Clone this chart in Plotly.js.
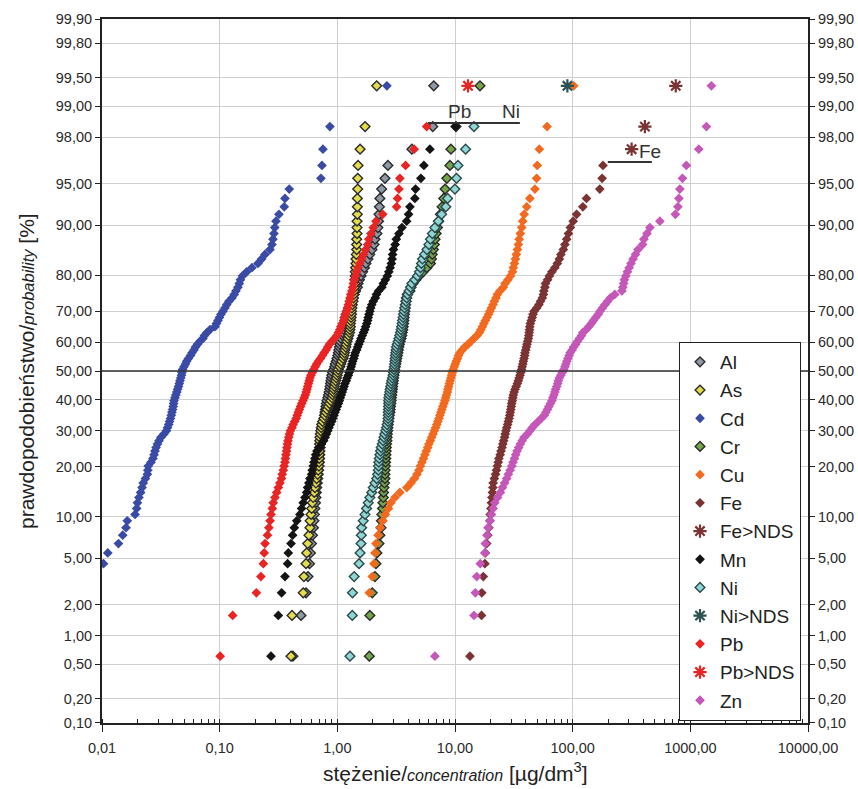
<!DOCTYPE html>
<html>
<head>
<meta charset="utf-8">
<script src="https://cdn.plot.ly/plotly-3.0.1.min.js"></script>
<style>html,body{margin:0;padding:0;background:#fff;}#chart{width:858px;height:789px;}</style>
</head>
<body>
<div id="chart"></div>
<script>
// ---- sample description ----
const N = 102;            // samples per metal
const BLOM_A = 0.375;     // plotting position (i - a)/(N + 1 - 2a)

// ---- probability axis ticks ----
const probTicks = [0.1,0.2,0.5,1,2,5,10,20,30,40,50,60,70,80,90,95,98,99,99.5,99.8,99.9];
const probTickText = ['0,10','0,20','0,50','1,00','2,00','5,00','10,00','20,00','30,00','40,00','50,00','60,00','70,00','80,00','90,00','95,00','98,00','99,00','99,50','99,80','99,90'];

// ---- concentrations [µg/dm3], sorted ----
const alVals = [0.419,0.491,0.542,0.563,0.580,0.591,0.603,0.615,0.627,0.633,
0.639,0.645,0.652,0.658,0.663,0.668,0.676,0.681,0.688,0.694,
0.697,0.702,0.706,0.709,0.711,0.714,0.717,0.720,0.723,0.726,
0.730,0.734,0.743,0.757,0.770,0.779,0.785,0.792,0.800,0.808,
0.816,0.829,0.840,0.851,0.862,0.868,0.875,0.882,0.889,0.898,
0.912,0.932,0.949,0.960,0.979,0.992,1.01,1.02,1.03,1.04,
1.05,1.06,1.08,1.11,1.12,1.14,1.15,1.16,1.163,1.17,
1.19,1.22,1.25,1.29,1.32,1.35,1.39,1.43,1.48,1.50,
1.54,1.59,1.64,1.70,1.75,1.82,1.89,1.97,2.05,2.09,
2.17,2.21,2.24,2.26,2.28,2.30,2.38,2.54,2.69,4.30,
6.47,6.60];
const alFirst = 1;

const asVals = [0.404,0.412,0.513,0.520,0.542,0.549,0.560,0.574,0.585,0.587,
0.597,0.605,0.613,0.624,0.637,0.645,0.658,0.667,0.680,0.688,
0.697,0.700,0.702,0.703,0.705,0.706,0.707,0.709,0.711,0.717,
0.724,0.731,0.737,0.750,0.770,0.785,0.800,0.818,0.839,0.860,
0.882,0.903,0.914,0.925,0.934,0.945,0.956,0.969,0.983,0.996,
1.01,1.02,1.05,1.07,1.09,1.12,1.14,1.15,1.16,1.18,
1.19,1.21,1.23,1.25,1.27,1.28,1.29,1.29,1.30,1.31,
1.32,1.32,1.33,1.34,1.36,1.37,1.38,1.39,1.40,1.41,
1.41,1.42,1.42,1.43,1.44,1.44,1.45,1.46,1.46,1.46,
1.47,1.47,1.47,1.48,1.48,1.48,1.49,1.49,1.50,1.56,
1.72,2.16];
const asFirst = 1;

const cdVals = [0.0103,0.0112,0.0138,0.0150,0.0160,0.0164,
0.0191,0.0197,0.0200,0.0206,0.0213,0.0219,0.0224,0.0234,0.0243,0.0245,
0.0247,0.0261,0.0271,0.0277,0.0282,0.0288,0.0296,0.0305,0.0317,0.0336,
0.0353,0.0360,0.0369,0.0375,0.0382,0.0388,0.0393,0.0398,0.0403,0.0406,
0.0409,0.0417,0.0424,0.0432,0.0439,0.0447,0.0454,0.0460,0.0467,0.0474,
0.0478,0.0484,0.0497,0.0512,0.0524,0.0543,0.0565,0.0582,0.0605,0.0623,
0.0648,0.0680,0.0721,0.0743,0.0780,0.0827,0.0912,0.0939,0.0967,0.0996,
0.1026,0.1067,0.1109,0.1147,0.1199,0.1272,0.1330,0.1375,0.1430,0.1467,
0.1502,0.1562,0.1696,0.1881,0.2115,0.2274,0.2426,0.2676,0.2782,0.2837,
0.2892,0.2938,0.3008,0.3190,0.3538,0.3587,0.3903,0.7256,0.7400,0.7546,
0.8651,2.638];
const cdFirst = 5;

const crVals = [1.87,1.89,1.98,2.09,2.13,2.17,2.26,2.30,2.35,2.37,
2.39,2.42,2.44,2.46,2.47,2.49,2.52,2.54,2.54,2.55,
2.56,2.57,2.58,2.59,2.60,2.61,2.62,2.64,2.65,2.66,
2.68,2.69,2.71,2.73,2.75,2.77,2.80,2.81,2.83,2.85,
2.87,2.88,2.90,2.92,2.94,2.95,2.97,2.99,3.01,3.03,
3.05,3.07,3.11,3.14,3.17,3.20,3.24,3.27,3.30,3.33,
3.37,3.42,3.48,3.53,3.56,3.60,3.63,3.66,3.68,3.70,
3.72,3.75,3.78,3.80,3.83,3.86,3.93,4.14,4.23,4.39,
4.65,4.94,5.35,5.77,6.18,6.31,6.42,6.55,6.68,6.77,
6.92,7.09,7.28,7.52,7.77,8.02,8.24,8.52,9.05,9.23,
10.2,16.3];
const crFirst = 1;

const cuVals = [1.87,1.98,2.05,2.09,2.13,2.22,2.32,2.44,2.56,2.72,
2.85,3.09,3.40,3.90,4.22,4.52,4.75,4.94,5.08,5.24,
5.40,5.55,5.70,5.86,6.00,6.17,6.34,6.50,6.66,6.84,
7.00,7.16,7.30,7.44,7.59,7.74,7.89,8.05,8.21,8.34,
8.46,8.62,8.70,8.84,8.96,9.09,9.24,9.36,9.50,9.65,
9.85,10.05,10.25,10.5,10.7,11.0,11.5,12.1,12.9,13.7,
14.5,15.4,16.1,16.6,17.1,17.6,18.1,18.7,19.3,19.8,
20.4,21.0,21.6,22.3,22.9,24.1,25.8,26.6,28.2,29.6,
30.8,31.3,32.0,32.6,33.2,33.9,34.6,35.1,35.9,36.9,
37.6,38.7,40.7,43.3,47.8,49.4,50.0,52.1,60.6,102];
const cuFirst = 3;

const feVals = [13.4,16.8,16.9,17.4,17.95,18.1,18.6,19.0,19.4,19.8,
19.9,20.2,20.4,20.6,20.8,21.0,21.1,21.6,22.1,22.5,
22.9,23.3,23.6,24.2,24.6,25.1,25.5,25.9,26.4,26.7,
27.1,27.5,28.0,28.4,28.8,29.2,29.5,29.8,30.1,30.3,
30.7,31.0,31.3,31.8,32.4,33.1,33.9,34.5,35.1,35.7,
36.2,36.8,37.2,37.7,38.1,38.6,39.1,39.3,39.9,40.4,
40.9,41.5,42.0,42.4,42.7,43.0,43.2,43.7,44.5,45.3,
46.0,47.0,49.5,51.6,53.3,55.2,56.4,56.9,58.1,58.7,
61.2,63.4,66.6,70.6,74.1,77.1,79.4,83.3,85.9,88.9,
92.1,95.6,101,108,122,131,170,178,181];
const feFirst = 1;
const feNdsVals = [317,411,752];
const feNdsFirst = 100;

const mnVals = [0.273,0.315,0.336,0.359,0.378,0.383,0.404,0.417,0.431,0.452,
0.481,0.497,0.513,0.531,0.549,0.559,0.573,0.585,0.605,0.612,
0.624,0.633,0.645,0.655,0.671,0.705,0.733,0.765,0.788,0.808,
0.829,0.848,0.870,0.895,0.914,0.936,0.954,0.977,0.998,1.02,
1.04,1.06,1.08,1.10,1.12,1.14,1.16,1.19,1.21,1.24,
1.26,1.29,1.31,1.33,1.35,1.38,1.40,1.42,1.46,1.49,
1.52,1.56,1.59,1.63,1.67,1.71,1.74,1.78,1.81,1.83,
1.86,1.89,1.92,1.96,2.02,2.10,2.15,2.24,2.39,2.46,
2.56,2.66,2.74,2.81,2.88,2.92,2.95,3.00,3.10,3.17,
3.34,3.54,3.88,4.03,4.14,4.56,4.62,5.13,5.44,6.12,
10.1];
const mnFirst = 1;

const niVals = [1.28,1.34,1.345,1.39,1.53,1.56,1.59,1.60,1.61,1.66,
1.72,1.77,1.83,1.89,1.96,2.02,2.09,2.16,2.20,2.23,
2.24,2.25,2.27,2.30,2.33,2.36,2.41,2.45,2.49,2.53,
2.58,2.62,2.65,2.69,2.70,2.71,2.71,2.72,2.72,2.73,
2.73,2.74,2.76,2.79,2.81,2.84,2.87,2.90,2.94,2.98,
3.01,3.03,3.05,3.07,3.09,3.10,3.12,3.14,3.16,3.18,
3.23,3.29,3.34,3.39,3.44,3.48,3.51,3.55,3.58,3.62,
3.65,3.69,3.74,3.79,3.84,3.89,3.96,4.07,4.19,4.30,
4.56,4.80,4.99,5.09,5.19,5.29,5.51,5.77,6.00,6.18,
6.42,6.75,7.22,7.70,8.36,8.65,9.98,10.3,10.6,12.3,
14.5];
const niFirst = 1;
const niNdsVals = [90.2];
const niNdsFirst = 102;

const pbVals = [0.101,0.129,0.205,0.224,0.235,0.239,0.243,0.255,0.262,0.268,
0.273,0.280,0.285,0.295,0.305,0.315,0.325,0.335,0.340,0.347,
0.353,0.359,0.362,0.366,0.370,0.373,0.377,0.381,0.387,0.392,
0.399,0.412,0.421,0.434,0.447,0.456,0.466,0.476,0.487,0.498,
0.510,0.523,0.534,0.544,0.552,0.560,0.569,0.577,0.585,0.597,
0.613,0.630,0.648,0.667,0.691,0.719,0.747,0.772,0.803,0.829,
0.857,0.900,0.945,0.992,1.02,1.05,1.07,1.10,1.13,1.15,
1.17,1.20,1.22,1.24,1.26,1.28,1.30,1.33,1.35,1.37,
1.39,1.43,1.46,1.50,1.55,1.61,1.67,1.74,1.81,1.85,
1.93,2.02,2.13,2.43,3.19,3.25,3.34,3.40,3.80,4.50,
5.74];
const pbFirst = 1;
const pbNdsVals = [12.9];
const pbNdsFirst = 102;

const znVals = [6.75,14.5,14.9,15.3,16.4,17.95,18.1,18.7,19.1,19.8,
20.4,21.1,21.8,23.0,24.3,25.3,26.4,27.5,28.4,29.4,
30.4,31.1,32.0,32.8,33.7,34.8,35.9,37.2,38.7,41.2,
43.3,45.3,47.8,51.0,54.1,57.5,59.2,61.0,62.8,64.7,
66.6,67.9,69.3,70.6,71.7,73.2,74.6,75.5,77.1,79.4,
81.5,84.2,85.9,87.6,89.3,91.1,93.3,95.1,99.0,102,
106,110,114,119,122,130,137,144,150,157,
165,171,179,188,198,209,228,262,267,271,
275,283,292,302,313,326,342,359,393,403,
428,453,551,746,784,799,814,857,925,1180,
1370,1510];
const znFirst = 1;

// ---- inverse normal CDF (Acklam) for the probability scale ----
function probit(p){
  const a=[-3.969683028665376e+01,2.209460984245205e+02,-2.759285104469687e+02,1.383577518672690e+02,-3.066479806614716e+01,2.506628277459239e+00];
  const b=[-5.447609879822406e+01,1.615858368580409e+02,-1.556989798598866e+02,6.680131188771972e+01,-1.328068155288572e+01];
  const c=[-7.784894002430293e-03,-3.223964580411365e-01,-2.400758277161838e+00,-2.549732539343734e+00,4.374664141464968e+00,2.938163982698783e+00];
  const d=[7.784695709041462e-03,3.224671290700398e-01,2.445134137142996e+00,3.754408661907416e+00];
  const pl=0.02425, ph=1-pl; let q,r;
  if(p<pl){q=Math.sqrt(-2*Math.log(p));return (((((c[0]*q+c[1])*q+c[2])*q+c[3])*q+c[4])*q+c[5])/((((d[0]*q+d[1])*q+d[2])*q+d[3])*q+1);}
  if(p<=ph){q=p-0.5;r=q*q;return (((((a[0]*r+a[1])*r+a[2])*r+a[3])*r+a[4])*r+a[5])*q/(((((b[0]*r+b[1])*r+b[2])*r+b[3])*r+b[4])*r+1);}
  q=Math.sqrt(-2*Math.log(1-p));return -(((((c[0]*q+c[1])*q+c[2])*q+c[3])*q+c[4])*q+c[5])/((((d[0]*q+d[1])*q+d[2])*q+d[3])*q+1);
}
const zPct = pct => probit(pct/100);
const rankToZ = i => probit((i - BLOM_A)/(N + 1 - 2*BLOM_A));

// ---- styles ----
const OUT = '#2b2b2b';
function dot(color, outline){ return {symbol:'diamond', size:7.5, color:color, line:{color: outline || color, width: outline ? 1.4 : 0}}; }
function star(color){ return {symbol:'asterisk-open', size:11, color:color, line:{color:color, width:2.2}}; }

function series(name, vals, first, marker){
  return {
    type:'scatter', mode:'markers', name:name, legendgroup:name,
    x: vals, y: vals.map((v,k)=>rankToZ(first+k)),
    marker: marker, cliponaxis:true,
    hovertemplate: name+': %{x} µg/dm³<extra></extra>'
  };
}

const traces = [
  series('Al', alVals, alFirst, dot('#8d9aa6', OUT)),
  series('As', asVals, asFirst, dot('#e4dc4c', OUT)),
  series('Cd', cdVals, cdFirst, dot('#3a4ba6')),
  series('Cr', crVals, crFirst, dot('#74a648', OUT)),
  series('Cu', cuVals, cuFirst, dot('#f26a1f')),
  series('Fe', feVals, feFirst, dot('#7b3333')),
  series('Fe>NDS', feNdsVals, feNdsFirst, star('#7b3333')),
  series('Mn', mnVals, mnFirst, dot('#141414')),
  series('Ni', niVals, niFirst, dot('#8fd6d4', '#2c4a4a')),
  series('Ni>NDS', niNdsVals, niNdsFirst, star('#2c5252')),
  series('Pb', pbVals, pbFirst, dot('#e82424')),
  series('Pb>NDS', pbNdsVals, pbNdsFirst, star('#e82424')),
  series('Zn', znVals, znFirst, dot('#c457b8')),
  {type:'scatter', mode:'markers', x:[1], y:[0], yaxis:'y2', showlegend:false, hoverinfo:'skip', marker:{opacity:0}}
];

const FONT = 'Liberation Sans, Arial, Helvetica, sans-serif';
const yTickVals = probTicks.map(zPct);
const yRange = [zPct(0.1)-0.002, zPct(99.9)+0.002];

const yCommon = {
  range: yRange, tickmode:'array', tickvals: yTickVals, ticktext: probTickText,
  ticks:'outside', ticklen:5, tickwidth:1, tickcolor:'#222',
  showline:true, linecolor:'#222', linewidth:2, zeroline:false,
  tickfont:{family:FONT, size:14.5, color:'#2a2a2a'}
};

const layout = {
  width:858, height:789,
  margin:{l:102, r:50, t:19, b:66, pad:0},
  paper_bgcolor:'#ffffff', plot_bgcolor:'#ffffff',
  font:{family:FONT, color:'#222'},
  separators:',.',
  showlegend:true,
  xaxis:{
    type:'log', range:[-2,4], tickmode:'linear', tick0:0, dtick:1, tickformat:'.2f',
    ticks:'outside', ticklen:7, tickwidth:1, tickcolor:'#222', ticklabelstandoff:4,
    minor:{dtick:'D1', ticks:'inside', ticklen:4, tickcolor:'#222', showgrid:false},
    showgrid:true, gridcolor:'#cfcfcf', gridwidth:1,
    showline:true, mirror:true, linecolor:'#222', linewidth:2, zeroline:false,
    tickfont:{family:FONT, size:14.5, color:'#2a2a2a'}
  },
  yaxis: Object.assign({}, yCommon, {side:'left', showgrid:true, gridcolor:'#cfcfcf', gridwidth:1}),
  yaxis2: Object.assign({}, yCommon, {side:'right', overlaying:'y', showgrid:false}),
  legend:{
    x:(679-102)/706, y:(723-342)/704, xanchor:'left', yanchor:'top',
    bgcolor:'#ffffff', bordercolor:'#222', borderwidth:1,
    font:{family:FONT, size:19, color:'#222'},
    traceorder:'grouped', tracegroupgap:0.5, itemsizing:'trace'
  },
  shapes:[
    {type:'line', xref:'paper', x0:0, x1:1, yref:'y', y0:zPct(50), y1:zPct(50), line:{color:'#333', width:1.6}, layer:'above'},
    {type:'line', xref:'x', x0:5.9, x1:35.6, yref:'y', y0:zPct(98.53), y1:zPct(98.53), line:{color:'#333', width:2}},
    {type:'line', xref:'x', x0:199, x1:471, yref:'y', y0:zPct(96.68), y1:zPct(96.68), line:{color:'#333', width:2}}
  ],
  annotations:[
    {xref:'x', yref:'y', x:Math.log10(11.0), y:zPct(98.87), text:'Pb', showarrow:false, font:{family:FONT, size:19, color:'#333'}},
    {xref:'x', yref:'y', x:Math.log10(29.9), y:zPct(98.87), text:'Ni', showarrow:false, font:{family:FONT, size:19, color:'#333'}},
    {xref:'x', yref:'y', x:Math.log10(453), y:zPct(97.31), text:'Fe', showarrow:false, font:{family:FONT, size:19, color:'#333'}},
    {xref:'paper', yref:'paper', x:0.5, y:(723-772)/704, yanchor:'middle', showarrow:false,
     text:'stężenie/<i><span style="font-size:16px">concentration</span></i> [µg/dm<sup>3</sup>]', font:{family:FONT, size:21, color:'#222'}},
    {xref:'paper', yref:'paper', x:(26-102)/706, y:0.5, xanchor:'center', yanchor:'middle', textangle:-90, showarrow:false,
     text:'prawdopodobieństwo/<i><span style="font-size:16.5px">probability</span></i> [%]', font:{family:FONT, size:21, color:'#222'}}
  ]
};

Plotly.newPlot('chart', traces, layout, {displayModeBar:false, staticPlot:true});
</script>
</body>
</html>
